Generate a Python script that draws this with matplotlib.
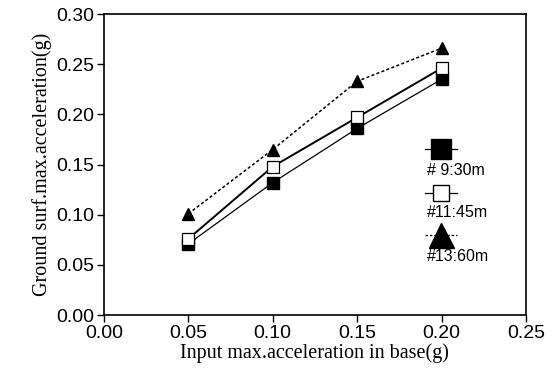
import numpy as np
import matplotlib
matplotlib.use("Agg")
import matplotlib.pyplot as plt

# data
x_in = [0.05, 0.10, 0.15, 0.20]
site9 = [0.071, 0.132, 0.186, 0.235]
site11 = [0.076, 0.148, 0.197, 0.246]
site13 = [0.101, 0.165, 0.233, 0.266]
labels = ["# 9:30m", "#11:45m", "#13:60m"]

xticks = [0.00, 0.05, 0.10, 0.15, 0.20, 0.25]
yticks = [0.00, 0.05, 0.10, 0.15, 0.20, 0.25, 0.30]

fig = plt.figure(figsize=(5.53, 3.81), dpi=100)
ax = fig.add_axes([0.188, 0.173, 0.763, 0.790])

ax.plot(x_in, site9, '-', color='black', lw=0.9, marker='s', ms=8,
        mfc='black', mec='black')
ax.plot(x_in, site11, '-', color='black', lw=1.4, marker='s', ms=9,
        mfc='white', mec='black', mew=0.9)
ax.plot(x_in, site13, color='black', ls=(0, (2, 1.5)), lw=1.1, marker='^', ms=9,
        mfc='black', mec='black')

ax.set_xlim(0, 0.25)
ax.set_ylim(0, 0.30)
ax.set_xticks(xticks)
ax.set_yticks(yticks)
ax.set_xticklabels([f"{v:.2f}" for v in xticks])
ax.set_yticklabels([f"{v:.2f}" for v in yticks])
ax.tick_params(direction='out', length=5, width=1, labelsize=14, pad=2)
for lab in ax.get_xticklabels() + ax.get_yticklabels():
    lab.set_family('Liberation Sans')
for s in ax.spines.values():
    s.set_linewidth(1.2)

ax.set_xlabel("Input max.acceleration in base(g)", family='Liberation Serif',
              fontsize=14.5, labelpad=1)
ax.set_ylabel("Ground surf.max.acceleration(g)", family='Liberation Serif',
              fontsize=14.5, labelpad=3)

# hand-built legend: handle above, label below
leg_lines = ['-', '-', (0, (2, 1.5))]
leg_markers = ['s', 's', '^']
leg_sizes = [15, 12, 18]
leg_faces = ['black', 'white', 'black']
handle_y = [0.551, 0.405, 0.266]
label_y = [0.482, 0.342, 0.196]
for i, lab in enumerate(labels):
    ax.plot([0.761, 0.836], [handle_y[i], handle_y[i]], color='black',
            ls=leg_lines[i], lw=0.9, transform=ax.transAxes, clip_on=False)
    ax.plot([0.798], [handle_y[i]], transform=ax.transAxes, clip_on=False,
            ls='none', marker=leg_markers[i], ms=leg_sizes[i],
            mfc=leg_faces[i], mec='black')
    ax.text(0.765, label_y[i], lab, transform=ax.transAxes, fontsize=11.5,
            family='Liberation Sans', va='center', ha='left')

fig.savefig("out.png", dpi=100)
